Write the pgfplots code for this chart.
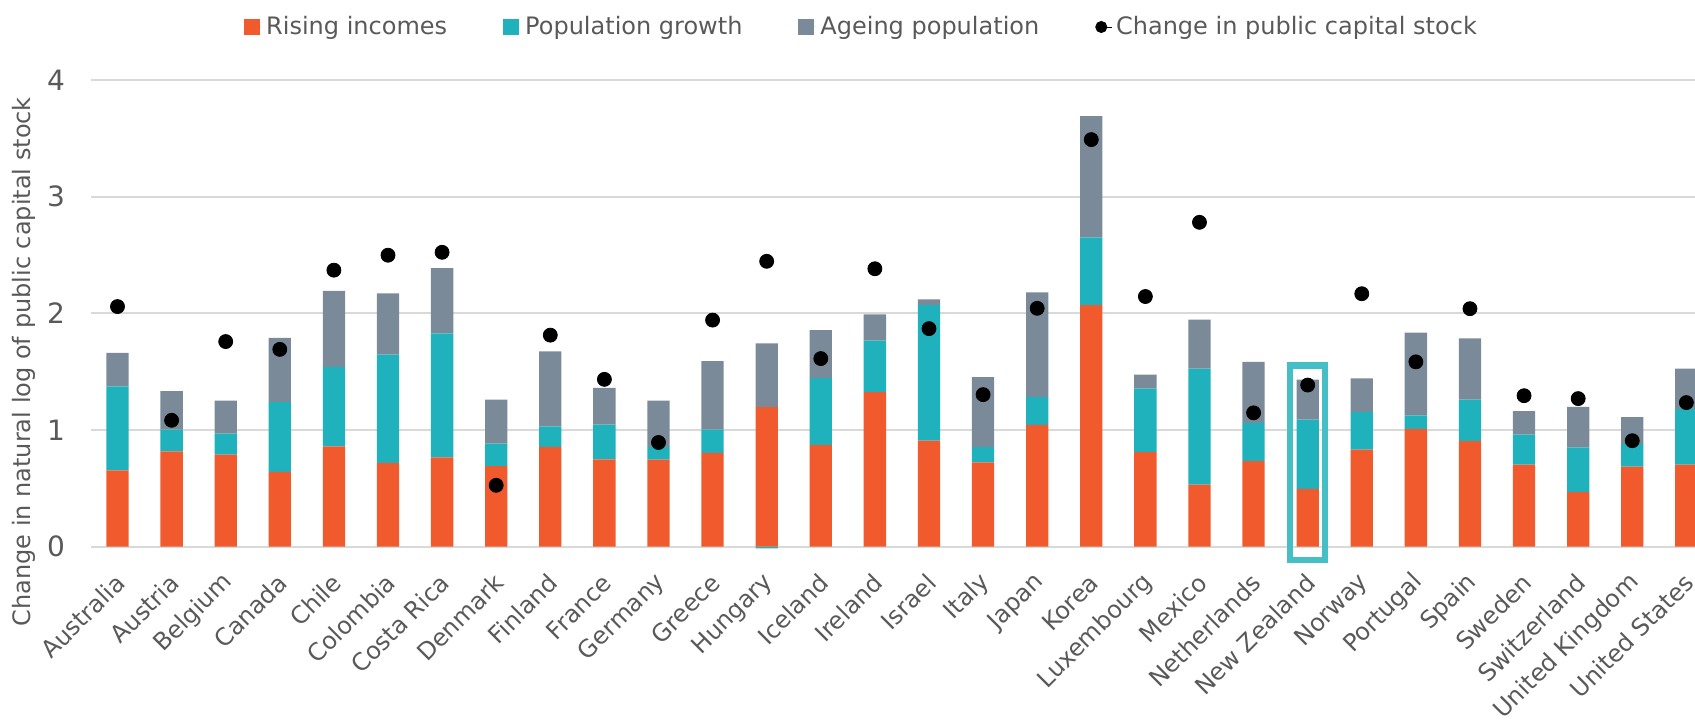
\documentclass[border=0pt]{standalone}
\usepackage{fontspec}
\setmainfont{DejaVu Sans}
\usepackage{pgfplots}
\usepackage{pgfplotstable}
\pgfplotsset{compat=1.18}
\definecolor{RiseOrange}{HTML}{F15A2C}
\definecolor{PopTeal}{HTML}{20B2BC}
\definecolor{AgeGrey}{HTML}{7B8A98}
\definecolor{GridGrey}{HTML}{D9D9D9}
\definecolor{TextGrey}{HTML}{595959}
\definecolor{BoxTeal}{HTML}{45BFC5}

\pgfplotsset{
  sq/.style={legend image code/.code={\path (0pt,0pt) -- (9pt,0pt);\fill[##1] (0pt,-4pt) rectangle (8pt,4pt);}},
  common/.style={scale only axis, width=802pt, height=234.5pt,
    xmin=-0.49, xmax=29.16, ymin=-0.02, ymax=4},
}

% x: country index, inc/pop/age: stacked contributions, chg: dot
\pgfplotstableread{
x inc pop age chg
0 0.654 0.719 0.288 2.058
1 0.817 0.186 0.330 1.083
2 0.789 0.180 0.282 1.758
3 0.642 0.597 0.550 1.691
4 0.859 0.682 0.652 2.370
5 0.719 0.926 0.526 2.498
6 0.765 1.064 0.559 2.523
7 0.691 0.193 0.376 0.526
8 0.856 0.175 0.642 1.813
9 0.749 0.297 0.315 1.434
10 0.746 0.110 0.395 0.893
11 0.804 0.199 0.587 1.942
12 1.196 -0.015 0.547 2.446
13 0.872 0.574 0.410 1.612
14 1.324 0.441 0.226 2.382
15 0.908 1.165 0.046 1.869
16 0.722 0.134 0.597 1.303
17 1.043 0.241 0.896 2.043
18 2.070 0.581 1.040 3.489
19 0.810 0.545 0.119 2.144
20 0.532 0.994 0.419 2.780
21 0.734 0.327 0.523 1.147
22 0.495 0.594 0.342 1.385
23 0.832 0.321 0.290 2.168
24 1.009 0.116 0.710 1.584
25 0.905 0.355 0.526 2.040
26 0.703 0.257 0.202 1.294
27 0.468 0.382 0.349 1.269
28 0.685 0.196 0.229 0.908
29 0.703 0.477 0.346 1.235
}\datatable

\begin{document}
\begin{tikzpicture}
\begin{axis}[common,
  ybar stacked, stack negative=separate, bar width=11.15pt,
  axis line style={draw=none}, tick style={draw=none},
  ymajorgrids, grid style={GridGrey, line width=1pt},
  ytick={0,1,2,3,4},
  xtick={0,...,29},
  xticklabels={Australia,Austria,Belgium,Canada,Chile,Colombia,Costa Rica,Denmark,Finland,France,Germany,Greece,Hungary,Iceland,Ireland,Israel,Italy,Japan,Korea,Luxembourg,Mexico,Netherlands,New Zealand,Norway,Portugal,Spain,Sweden,Switzerland,United Kingdom,United States},
  xticklabel style={xshift=3.9pt, yshift=-12.3pt, rotate=45, anchor=east, font=\fontsize{12}{14}\selectfont, text=TextGrey},
  yticklabel style={font=\fontsize{14}{16}\selectfont, text=TextGrey, xshift=-9.5pt},
  /pgf/number format/assume math mode=true,
  ylabel={Change in natural log of public capital stock},
  ylabel style={at={(axis description cs:-0.042,0.399)}, anchor=center, font=\fontsize{12}{14}\selectfont, text=TextGrey},
  legend columns=4,
  legend style={draw=none, fill=none, at={(axis description cs:0.481,1.113)}, anchor=center,
    font=\fontsize{12}{14}\selectfont, text=TextGrey,
    /tikz/every even column/.append style={column sep=26pt}},
]
\addplot[fill=RiseOrange, draw=none, sq] table[x=x, y=inc]{\datatable};
\addlegendentry{Rising incomes}
\addplot[fill=PopTeal, draw=none, sq] table[x=x, y=pop]{\datatable};
\addlegendentry{Population growth}
\addplot[fill=AgeGrey, draw=none, sq] table[x=x, y=age]{\datatable};
\addlegendentry{Ageing population}
\addlegendimage{legend image code/.code={\path (0pt,0pt) -- (8pt,0pt);\fill[black] (2.8pt,0pt) circle (2.8pt);}}
\addlegendentry{Change in public capital stock}
\end{axis}
\begin{axis}[common, hide axis, clip=false]
\addplot[only marks, mark=*, mark size=3.5pt, black] table[x=x, y=chg]{\datatable};
\draw[BoxTeal, line width=3.3pt] (axis cs:21.67,-0.114) rectangle (axis cs:22.32,1.553);
\end{axis}
\pgfresetboundingbox
\useasboundingbox (-45.5pt,-86pt) rectangle (802pt,274.5pt);
\end{tikzpicture}
\end{document}
